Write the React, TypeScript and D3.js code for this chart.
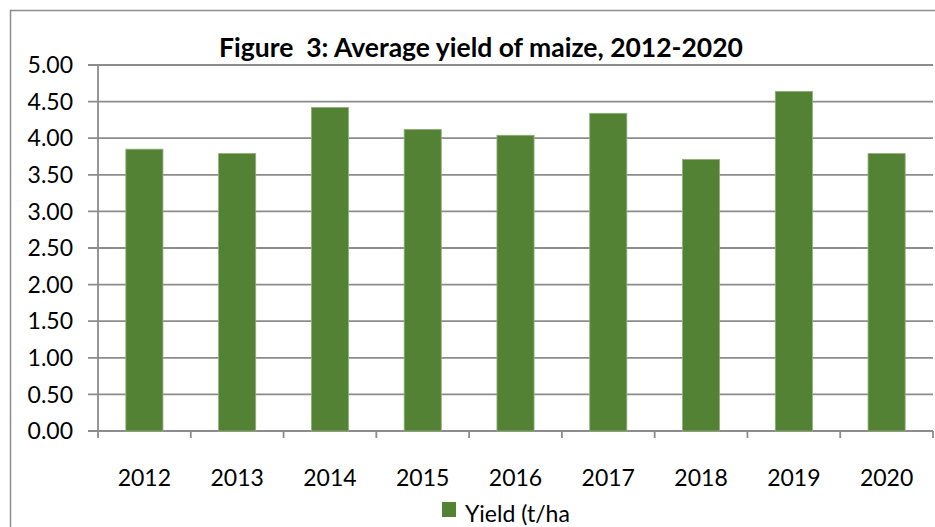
import React from "react";
import * as d3 from "d3";

const years = ["2012", "2013", "2014", "2015", "2016", "2017", "2018", "2019", "2020"];
const yieldValues = [3.85, 3.79, 4.42, 4.12, 4.04, 4.34, 3.71, 4.64, 3.79];
const yTicks = [0, 0.5, 1, 1.5, 2, 2.5, 3, 3.5, 4, 4.5, 5];
const title = "Figure  3: Average yield of maize, 2012-2020";
const seriesName = "Yield (t/ha";

const W = 935;
const H = 527;
const font = "Lato, 'Open Sans', sans-serif";

export default function App() {
  const left = 98, right = 933, top = 65, bottom = 431;
  const x = d3.scaleBand<string>().domain(years).range([left, right]).paddingInner(0.6).paddingOuter(0.3);
  const xc = d3.scaleBand<string>().domain(years).range([left, right]);
  const y = d3.scaleLinear().domain([0, 5]).range([bottom, top]);
  const grid = "#8c8c8c";
  return (
    <svg width={W} height={H} style={{ position: "absolute", left: 0, top: 0, background: "#fff" }}>
      <rect x={10.5} y={10.5} width={W + 20} height={H + 20} fill="#fff" stroke="#8c8c8c" strokeWidth={1.5} />
      <text x={481} y={57} textAnchor="middle" fontFamily={font} fontWeight="bold" fontSize={26.5} fill="#000" style={{ whiteSpace: "pre" }}>
        {title}
      </text>
      {yTicks.map((t) => (
        <g key={t}>
          <line x1={88} x2={right} y1={y(t)} y2={y(t)} stroke={grid} strokeWidth={1.8} />
          <text x={73} y={y(t)} dy="0.36em" textAnchor="end" fontFamily={font} fontSize={23} fill="#000">
            {t.toFixed(2)}
          </text>
        </g>
      ))}
      <line x1={left} x2={left} y1={top} y2={bottom + 7} stroke={grid} strokeWidth={1.8} />
      {years.map((yr) => (
        <line key={"t" + yr} x1={xc(yr)! + xc.bandwidth()} x2={xc(yr)! + xc.bandwidth()} y1={bottom} y2={bottom + 7} stroke={grid} strokeWidth={1.8} />
      ))}
      {years.map((yr, i) => (
        <rect
          key={yr}
          x={x(yr)}
          y={y(yieldValues[i])}
          width={x.bandwidth()}
          height={bottom - y(yieldValues[i])}
          fill="#548235"
          stroke="#8fb07a"
          strokeWidth={0.8}
        />
      ))}
      {years.map((yr) => (
        <text key={"l" + yr} x={xc(yr)! + xc.bandwidth() / 2} y={486} textAnchor="middle" fontFamily={font} fontSize={23} fill="#000">
          {yr}
        </text>
      ))}
      <rect x={442} y={502} width={14} height={15} fill="#548235" />
      <text x={465} y={522} fontFamily={font} fontSize={23} fill="#000">
        {seriesName}
      </text>
    </svg>
  );
}
